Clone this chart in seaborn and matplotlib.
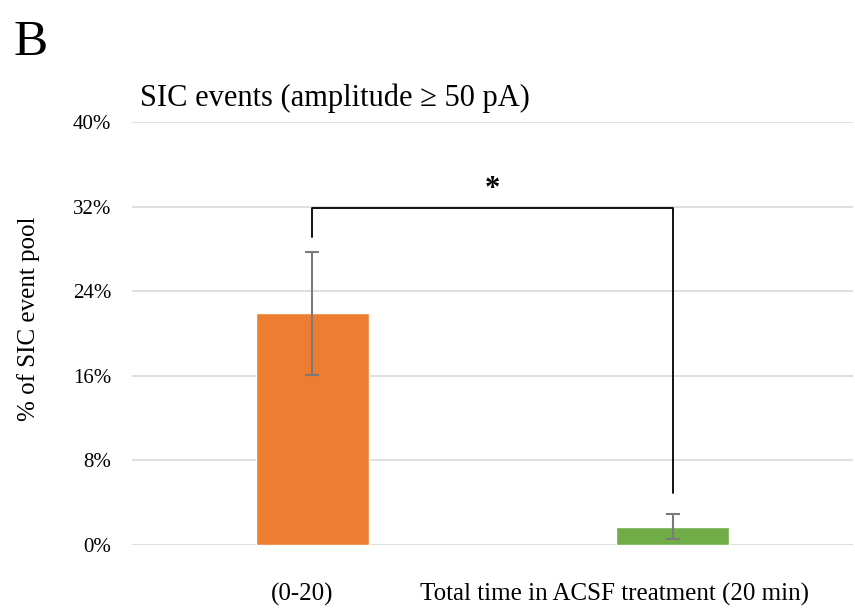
import matplotlib
matplotlib.use("Agg")
import matplotlib.pyplot as plt
import seaborn as sns
import pandas as pd

# Data
categories = ["(0-20)", "Total time in ACSF treatment (20 min)"]
percent_events = [21.9, 1.75]
percent_err = [5.85, 1.2]
bar_colors = ["#ED7D31", "#70AD47"]
y_ticks = [0, 8, 16, 24, 32, 40]
y_tick_labels = ["0%", "8%", "16%", "24%", "32%", "40%"]

# Category label centres (in x data units) as laid out under the bars
label_centres = [-0.028, 0.837]

# Significance bracket: left leg bottom, top, right leg bottom (in %)
bracket_levels = [29.1, 31.9, 4.9]

sns.set_theme(style="white")
plt.rcParams["font.family"] = ["Liberation Serif", "DejaVu Serif"]
plt.rcParams["text.color"] = "black"
plt.rcParams["axes.labelcolor"] = "black"
plt.rcParams["xtick.color"] = "black"
plt.rcParams["ytick.color"] = "black"

df = pd.DataFrame({"group": categories, "value": percent_events})

fig = plt.figure(figsize=(8.55, 6.13), dpi=100)
ax = fig.add_axes([0.1544, 0.1109, 0.8433, 0.6901])

sns.barplot(data=df, x="group", y="value", hue="group", palette=bar_colors,
            width=0.313, errorbar=None, legend=False, ax=ax, zorder=3,
            saturation=1)

ax.errorbar(range(len(categories)), percent_events, yerr=percent_err, fmt="none",
            ecolor="#7a7a7a", elinewidth=1.5, capsize=5, capthick=1.5, zorder=4)

ax.set_xlim(-0.5, 1.5)
ax.set_ylim(0, 40)
ax.set_yticks(y_ticks)
ax.set_yticklabels(y_tick_labels)
ax.set_xticks([])
ax.yaxis.grid(True, color="#d9d9d9", linewidth=1.2, zorder=0)
ax.set_axisbelow(True)
for s in ax.spines.values():
    s.set_visible(False)
ax.tick_params(axis="both", length=0)
ax.tick_params(axis="y", pad=15, labelsize=15)
ax.set_xlabel("")
ax.set_ylabel("% of SIC event pool", fontsize=18)
ax.yaxis.set_label_coords(-0.128, 0.535)

# Category labels below the axis
for xc, name in zip(label_centres, categories):
    ax.text(xc, -0.1158, name, transform=ax.get_xaxis_transform(),
            ha="center", va="center", fontsize=18)

# Significance bracket
l_bot, top, r_bot = bracket_levels
ax.plot([0, 0, 1, 1], [l_bot, top, top, r_bot], color="black", linewidth=1.3,
        zorder=5, clip_on=False)
ax.text(0.5, top + 0.3, "*", ha="center", va="bottom", fontsize=22,
        fontweight="bold", color="black")

fig.text(140 / 855, 1 - 106 / 613, "SIC events (amplitude \u2265 50 pA)",
         fontsize=22, ha="left", va="baseline")
fig.text(14 / 855, 1 - 55 / 613, "B", fontsize=37, ha="left", va="baseline")

fig.savefig("out.png", dpi=100)
